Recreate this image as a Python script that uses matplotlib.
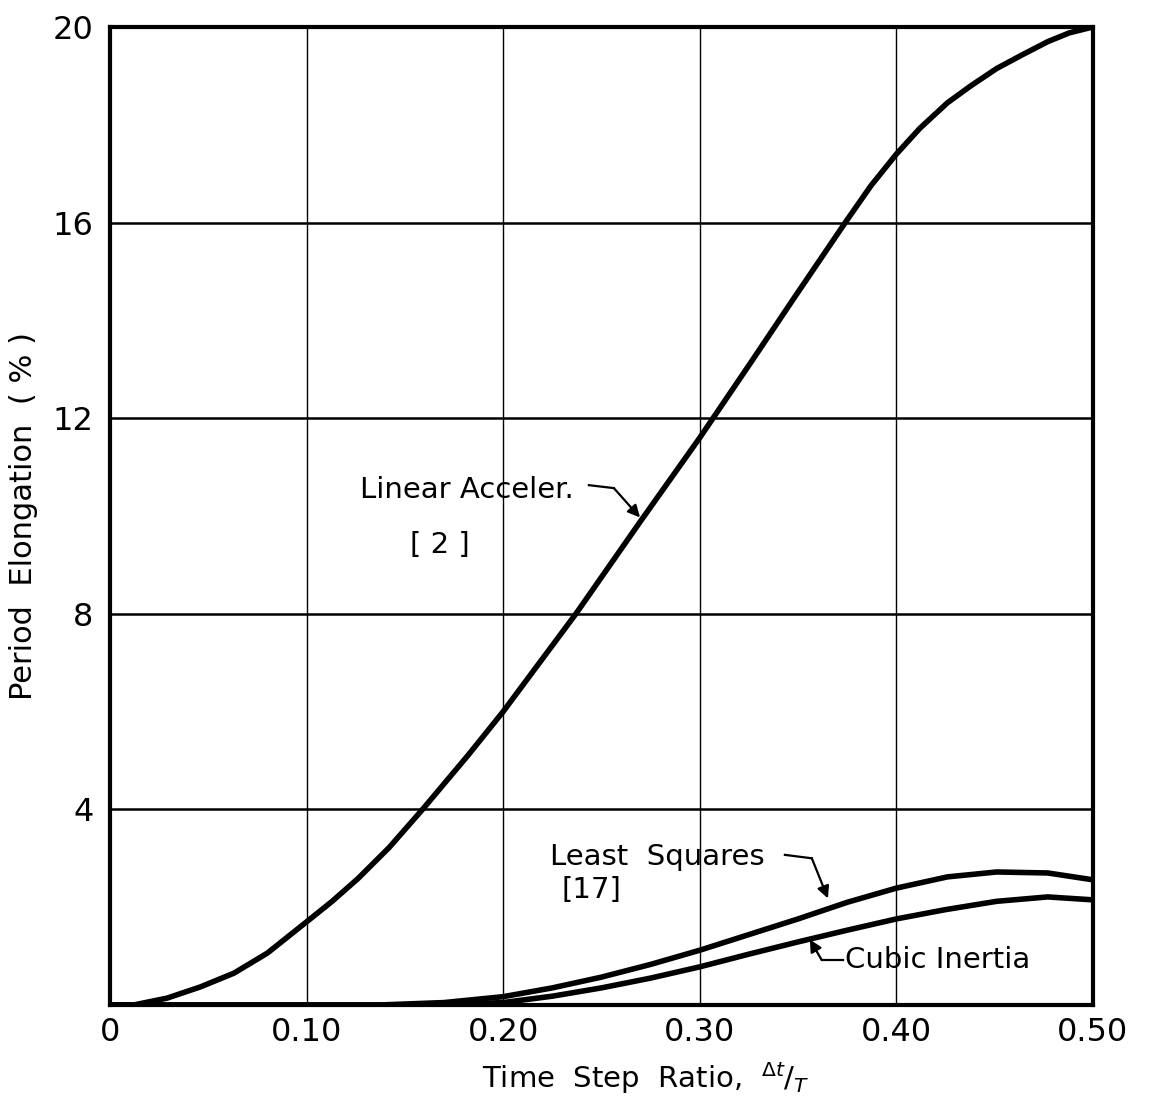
import numpy as np
import matplotlib.pyplot as plt

# Curves
lin_x = [0, 0.012, 0.029, 0.046, 0.063, 0.080, 0.10, 0.113, 0.126, 0.142, 0.159, 0.182,
         0.20, 0.237, 0.27, 0.30, 0.327, 0.347, 0.374, 0.387, 0.40,
         0.412, 0.426, 0.438, 0.451, 0.464, 0.477, 0.488, 0.50]
lin_y = [0, 0.0, 0.14, 0.37, 0.65, 1.06, 1.70, 2.12, 2.58, 3.22, 4.0, 5.1,
         6.0, 8.0, 9.9, 11.6, 13.2, 14.4, 16.0, 16.75, 17.4,
         17.93, 18.45, 18.8, 19.15, 19.43, 19.7, 19.88, 20.0]

ls_x = [0, 0.10, 0.137, 0.17, 0.20, 0.225, 0.25, 0.275, 0.30, 0.325, 0.35,
        0.375, 0.40, 0.426, 0.451, 0.477, 0.50]
ls_y = [0, 0, 0.0, 0.05, 0.17, 0.35, 0.57, 0.83, 1.12, 1.44, 1.76,
        2.10, 2.39, 2.62, 2.72, 2.70, 2.56]

ci_x = [0, 0.15, 0.175, 0.20, 0.225, 0.25, 0.275, 0.30, 0.325, 0.35, 0.375,
        0.40, 0.425, 0.451, 0.477, 0.50]
ci_y = [0, 0, 0.01, 0.05, 0.18, 0.35, 0.55, 0.78, 1.04, 1.29, 1.53,
        1.76, 1.95, 2.12, 2.21, 2.15]

xticks = [0, 0.10, 0.20, 0.30, 0.40, 0.50]
xticklabels = ['0', '0.10', '0.20', '0.30', '0.40', '0.50']
yticks = [4, 8, 12, 16, 20]

plt.rcParams['font.family'] = 'DejaVu Sans'
plt.rcParams['mathtext.fontset'] = 'dejavusans'

fig = plt.figure(figsize=(11.54, 11.01), dpi=100)
ax = fig.add_axes([0.0953, 0.0872, 0.9471 - 0.0953, 0.9755 - 0.0872])

# grid
for yv in [4, 8, 12, 16]:
    ax.axhline(yv, color='black', lw=1.8, zorder=1)
for xv in [0.1, 0.2, 0.3, 0.4]:
    ax.axvline(xv, color='black', lw=1.0, zorder=1)

lw = 4
for xs, ys in [(lin_x, lin_y), (ls_x, ls_y), (ci_x, ci_y)]:
    ax.plot(xs, ys, color='black', lw=lw, solid_capstyle='round',
            solid_joinstyle='round', zorder=3)

ax.set_xlim(0, 0.5)
ax.set_ylim(0, 20)
ax.set_xticks(xticks)
ax.set_xticklabels(xticklabels)
ax.set_yticks(yticks)
ax.tick_params(length=0, labelsize=23)
ax.tick_params(axis='x', pad=9)
ax.tick_params(axis='y', pad=12)
for sp in ax.spines.values():
    sp.set_linewidth(3)

ax.set_ylabel('Period  Elongation  ( % )', fontsize=22)
ax.set_xlabel(r'Time  Step  Ratio,  $^{\Delta t}/_{T}$', fontsize=21)
ax.yaxis.set_label_coords(-0.073, 0.50)
ax.xaxis.set_label_coords(0.545, -0.056)

# labels with hand-drawn style arrows
fs = 21
arrow = dict(arrowstyle='-|>', color='black', lw=1.6, mutation_scale=18,
             shrinkA=0, shrinkB=0)

ax.text(0.127, 10.53, 'Linear Acceler.', fontsize=fs, va='center', ha='left')
ax.text(0.168, 9.4, '[ 2 ]', fontsize=fs, va='center', ha='center')
ax.plot([0.2436, 0.2563], [10.63, 10.57], color='black', lw=1.6)
ax.annotate('', xy=(0.2696, 9.97), xytext=(0.2563, 10.57), arrowprops=arrow)

ax.text(0.2238, 3.03, 'Least  Squares', fontsize=fs, va='center', ha='left')
ax.text(0.245, 2.35, '[17]', fontsize=fs, va='center', ha='center')
ax.plot([0.3433, 0.357], [3.07, 3.0], color='black', lw=1.6)
ax.annotate('', xy=(0.3652, 2.18), xytext=(0.357, 3.0), arrowprops=arrow)

ax.text(0.3738, 0.92, 'Cubic Inertia', fontsize=fs, va='center', ha='left')
ax.plot([0.3728, 0.362], [0.92, 0.92], color='black', lw=1.6)
ax.annotate('', xy=(0.356, 1.34), xytext=(0.362, 0.92), arrowprops=arrow)

plt.savefig('out.png', dpi=100)
plt.close()
